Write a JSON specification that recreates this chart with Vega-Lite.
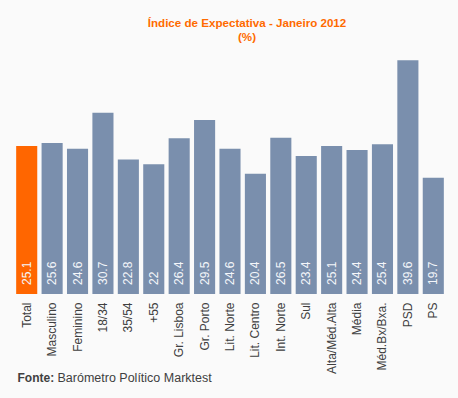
{
  "$schema": "https://vega.github.io/schema/vega-lite/v6.json",
  "autosize": "none",
  "width": 432,
  "height": 236,
  "padding": {"left": 14, "top": 58, "right": 12, "bottom": 104},
  "background": "#FAFAFA",
  "config": {"view": {"stroke": null}},
  "title": {
    "text": "Índice de Expectativa - Janeiro  2012",
    "subtitle": "(%)",
    "anchor": "middle",
    "dx": 17,
    "offset": 14,
    "font": "Liberation Sans",
    "fontSize": 11.6,
    "fontWeight": "bold",
    "color": "#FF6A00",
    "subtitleFont": "Liberation Sans",
    "subtitleFontSize": 11.6,
    "subtitleFontWeight": "bold",
    "subtitleColor": "#FF6A00",
    "subtitlePadding": 3
  },
  "data": {
    "values": [
      {"grupo": "Total", "valor": 25.1},
      {"grupo": "Masculino", "valor": 25.6},
      {"grupo": "Feminino", "valor": 24.6},
      {"grupo": "18/34", "valor": 30.7},
      {"grupo": "35/54", "valor": 22.8},
      {"grupo": "+55", "valor": 22},
      {"grupo": "Gr. Lisboa", "valor": 26.4},
      {"grupo": "Gr. Porto", "valor": 29.5},
      {"grupo": "Lit. Norte", "valor": 24.6},
      {"grupo": "Lit. Centro", "valor": 20.4},
      {"grupo": "Int. Norte", "valor": 26.5},
      {"grupo": "Sul", "valor": 23.4},
      {"grupo": "Alta/Méd.Alta", "valor": 25.1},
      {"grupo": "Média", "valor": 24.4},
      {"grupo": "Méd.Bx/Bxa.", "valor": 25.4},
      {"grupo": "PSD", "valor": 39.6},
      {"grupo": "PS", "valor": 19.7}
    ]
  },
  "encoding": {
    "x": {
      "field": "grupo",
      "type": "nominal",
      "sort": null,
      "scale": {"paddingInner": 0.17, "paddingOuter": 0.085},
      "axis": {
        "labelAngle": -90,
        "labelAlign": "right",
        "labelBaseline": "middle",
        "labelPadding": 8,
        "labelFont": "Liberation Sans",
        "labelFontSize": 12,
        "labelColor": "#404040",
        "ticks": false,
        "domain": false,
        "title": "Barómetro Político Marktest",
        "titleFont": "Liberation Sans",
        "titleFontSize": 12.5,
        "titleFontWeight": "normal",
        "titleColor": "#404040",
        "titleAnchor": "start",
        "titleAlign": "left",
        "titleBaseline": "middle",
        "titleX": 43,
        "titleY": 83
      }
    },
    "y": {
      "field": "valor",
      "type": "quantitative",
      "scale": {"domain": [0, 40]},
      "axis": {
        "labels": false,
        "ticks": false,
        "domain": false,
        "grid": false,
        "title": "Fonte:",
        "titleFont": "Liberation Sans",
        "titleFontSize": 12,
        "titleFontWeight": "bold",
        "titleColor": "#404040",
        "titleAngle": 0,
        "titleAlign": "left",
        "titleBaseline": "middle",
        "titleX": 3,
        "titleY": 319
      }
    }
  },
  "layer": [
    {
      "mark": {"type": "bar"},
      "encoding": {
        "color": {
          "condition": {"test": "datum.grupo === 'Total'", "value": "#FF6600"},
          "value": "#7A8FAD"
        }
      }
    },
    {
      "mark": {
        "type": "text",
        "angle": 270,
        "align": "left",
        "baseline": "middle",
        "dx": 9,
        "font": "Liberation Sans",
        "fontSize": 12,
        "color": "#F4F6FA"
      },
      "encoding": {
        "y": {"datum": 0, "type": "quantitative"},
        "text": {"field": "valor", "type": "quantitative"}
      }
    }
  ]
}
